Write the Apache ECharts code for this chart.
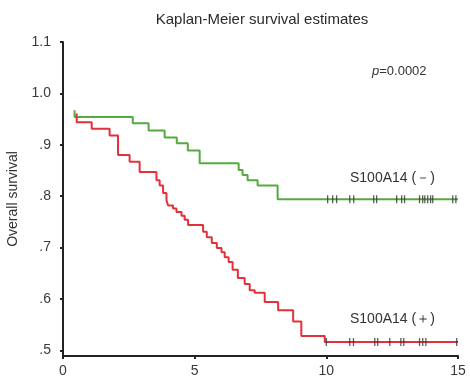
<!DOCTYPE html>
<html>
<head>
<meta charset="utf-8">
<script src="https://cdn.jsdelivr.net/npm/echarts@6/dist/echarts.min.js"></script>
<style>
  html, body { margin: 0; padding: 0; background: #fff; }
  #chart { width: 470px; height: 381px; }
</style>
</head>
<body>
<div id="chart"></div>
<script>
// survival curves, [years, survival] at each drop
var negCurve = [
  [0.44, 0.967], [0.44, 0.954], [2.65, 0.942], [3.25, 0.928], [3.86, 0.914],
  [4.32, 0.903], [4.74, 0.889], [5.19, 0.864], [6.67, 0.851], [6.82, 0.841],
  [7.01, 0.831], [7.39, 0.821], [8.15, 0.794], [15, 0.794]
];
var posCurve = [
  [0.52, 0.961], [0.52, 0.944], [1.09, 0.931], [1.77, 0.918], [2.09, 0.880],
  [2.53, 0.867], [2.91, 0.847], [3.55, 0.831], [3.67, 0.821], [3.80, 0.806],
  [3.93, 0.792], [3.99, 0.782], [4.18, 0.776], [4.31, 0.769], [4.50, 0.762],
  [4.62, 0.754], [4.75, 0.744], [5.32, 0.731], [5.46, 0.720], [5.65, 0.709],
  [5.84, 0.699], [6.02, 0.691], [6.14, 0.681], [6.29, 0.672], [6.44, 0.657],
  [6.64, 0.641], [6.90, 0.629], [7.09, 0.617], [7.28, 0.612], [7.66, 0.594],
  [8.17, 0.578], [8.74, 0.556], [9.05, 0.528], [9.94, 0.516], [15, 0.516]
];
// censored times
var negCensor = [10.05, 10.24, 10.39, 10.89, 11.04, 11.80, 11.91, 12.67, 12.86, 12.97,
  13.54, 13.66, 13.74, 13.85, 13.96, 14.04, 14.80, 14.92];
var posCensor = [10.0, 10.89, 11.03, 11.84, 11.95, 12.41, 12.83, 12.94, 13.54, 13.66,
  13.78, 14.95];
var negLevel = 0.794;
var posLevel = 0.516;
var xTicks = [0, 5, 10, 15];
var yTicks = [0.5, 0.6, 0.7, 0.8, 0.9, 1.0, 1.1];

var myChart = echarts.init(document.getElementById('chart'));
var font = 'Liberation Sans, Arial, sans-serif';

var option = {
  animation: false,
  title: {
    text: 'Kaplan-Meier survival estimates',
    left: 257,
    textAlign: 'center',
    top: 7,
    textStyle: { fontFamily: font, fontSize: 15, fontWeight: 'normal', color: '#2a2a2a' }
  },
  grid: { left: 63, right: 12, top: 42, bottom: 25, outerBoundsMode: 'none', containLabel: false },
  xAxis: {
    type: 'value',
    min: xTicks[0],
    max: xTicks[xTicks.length - 1],
    interval: 5,
    splitLine: { show: false },
    axisLine: { lineStyle: { color: '#222', width: 2 } },
    axisTick: { show: true, length: 3, lineStyle: { color: '#222', width: 2 } },
    axisLabel: { margin: 8, fontFamily: font, fontSize: 14, color: '#3a3a3a' }
  },
  yAxis: {
    type: 'value',
    min: 0.489,
    max: yTicks[yTicks.length - 1],
    name: 'Overall survival',
    nameLocation: 'middle',
    nameGap: 40,
    nameTextStyle: { fontFamily: font, fontSize: 14, color: '#333' },
    splitLine: { show: false },
    axisLine: { show: true, lineStyle: { color: '#222', width: 2 } },
    axisTick: { show: true, length: 3, customValues: yTicks, lineStyle: { color: '#222', width: 2 } },
    axisLabel: {
      margin: 12,
      customValues: yTicks,
      fontFamily: font, fontSize: 14, color: '#3a3a3a',
      formatter: function (v) {
        var s = v.toFixed(1);
        return v >= 1 ? s : s.replace(/^0/, '');
      }
    }
  },
  series: [
    {
      name: 'S100A14 (-)',
      type: 'line',
      step: 'end',
      symbol: 'none',
      lineStyle: { color: '#55a93f', width: 2 },
      data: negCurve
    },
    {
      name: 'S100A14 (+)',
      type: 'line',
      step: 'end',
      symbol: 'none',
      lineStyle: { color: '#e3303b', width: 2 },
      data: posCurve
    },
    {
      type: 'scatter',
      symbol: 'rect',
      symbolSize: [1.3, 8],
      itemStyle: { color: '#333' },
      z: 5,
      data: negCensor.map(function (t) { return [t, negLevel]; })
    },
    {
      type: 'scatter',
      symbol: 'rect',
      symbolSize: [1.3, 8],
      itemStyle: { color: '#333' },
      z: 5,
      data: posCensor.map(function (t) { return [t, posLevel]; })
    }
  ],
  graphic: [
    {
      type: 'text', left: 372, top: 65,
      style: {
        text: '{i|p}=0.0002',
        rich: { i: { fontStyle: 'italic', fontFamily: font, fontSize: 13, fill: '#333' } },
        font: '13px ' + font, fill: '#333'
      }
    },
    {
      type: 'text', left: 350, top: 171,
      style: { text: 'S100A14 (－)', font: '14px ' + font, fill: '#333' }
    },
    {
      type: 'text', left: 350, top: 312,
      style: { text: 'S100A14 (＋)', font: '14px ' + font, fill: '#333' }
    }
  ]
};
myChart.setOption(option);
window.addEventListener('resize', function () {
  myChart.resize();
});
</script>
</body>
</html>
